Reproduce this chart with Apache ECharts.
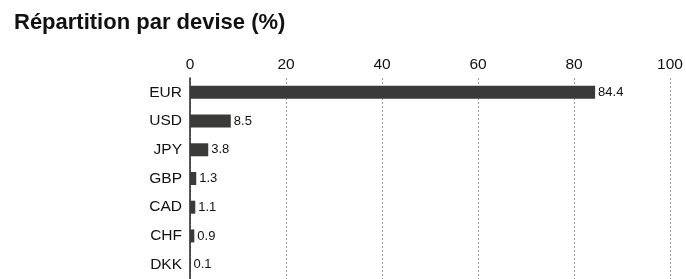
<!DOCTYPE html>
<html>
<head>
<meta charset="utf-8">
<script src="https://cdn.jsdelivr.net/npm/echarts@6/dist/echarts.min.js"></script>
<style>
  html, body { margin: 0; padding: 0; background: #fff; }
  #chart { width: 686px; height: 279px; }
</style>
</head>
<body>
<div id="chart"></div>
<script>
const categories = ['EUR', 'USD', 'JPY', 'GBP', 'CAD', 'CHF', 'DKK'];
const values = [84.4, 8.5, 3.8, 1.3, 1.1, 0.9, 0.1];
const xTicks = [0, 20, 40, 60, 80, 100];

const FONT = 'Liberation Sans';
const myChart = echarts.init(document.getElementById('chart'));

const option = {
  animation: false,
  title: {
    text: 'Répartition par devise (%)',
    left: 9,
    top: 7,
    textStyle: { fontFamily: FONT, fontSize: 22, fontWeight: 'bold', color: '#111' },
  },
  grid: { left: 190, right: 16, top: 78, height: 206, containLabel: false },
  xAxis: {
    type: 'value',
    position: 'top',
    min: xTicks[0],
    max: xTicks[xTicks.length - 1],
    interval: 20,
    axisLine: { show: false },
    axisTick: { show: false },
    axisLabel: { fontFamily: FONT, fontSize: 15.5, color: '#111', margin: 5 },
    splitLine: { show: true, lineStyle: { type: [2, 2], color: '#999', width: 1 } },
  },
  yAxis: {
    type: 'category',
    inverse: true,
    data: categories,
    axisLine: { show: true, lineStyle: { color: '#222', width: 1.5 } },
    axisTick: { show: false },
    axisLabel: { fontFamily: FONT, fontSize: 15.5, color: '#111', margin: 8 },
  },
  series: [
    {
      type: 'bar',
      data: values,
      barWidth: 13,
      itemStyle: { color: '#3a3b38' },
      label: {
        show: true,
        position: 'right',
        distance: 3,
        fontFamily: FONT,
        fontSize: 13,
        color: '#111',
      },
    },
  ],
};

myChart.setOption(option);
</script>
</body>
</html>
